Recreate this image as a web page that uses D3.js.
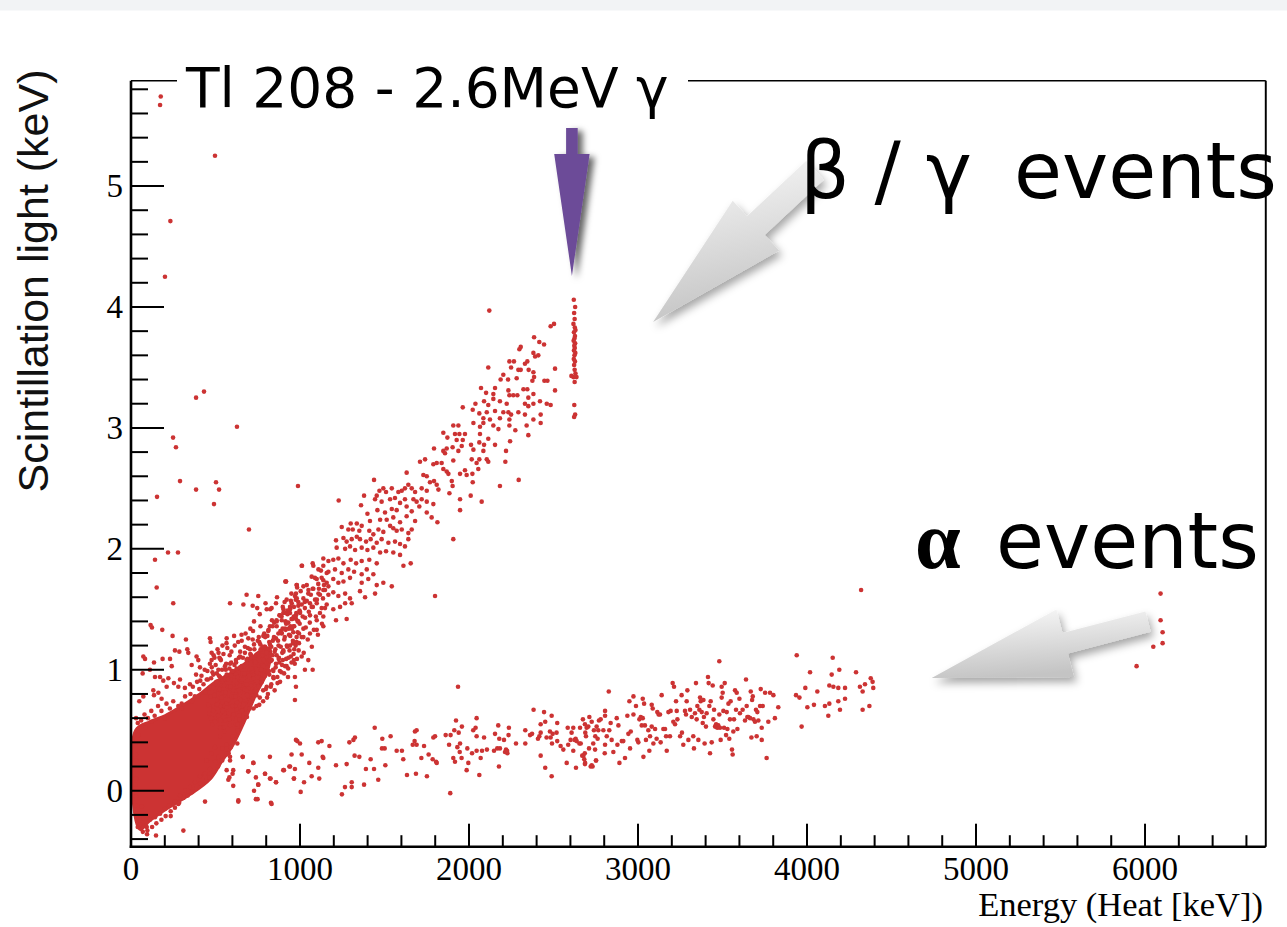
<!DOCTYPE html>
<html>
<head>
<meta charset="utf-8">
<script src="https://cdn.jsdelivr.net/npm/d3@7"></script>
<style>
  html, body { margin: 0; padding: 0; background: #ffffff; }
  svg { display: block; }
</style>
</head>
<body>
<svg id="chart" width="1287" height="927"></svg>
<script>
// ---- Axis ticks ----
const xMajorTicks = [0, 1000, 2000, 3000, 4000, 5000, 6000];
const yMajorTicks = [0, 1, 2, 3, 4, 5];

// ---- Events: [heat energy (keV), scintillation light (keV)] ----

// Saturated core of the beta/gamma population near threshold (outline)
const denseCore = [
  [28,0.50],[112,0.57],[200,0.62],[300,0.70],[408,0.80],[500,0.90],[600,0.98],
  [700,1.08],[780,1.17],[820,1.18],
  [810,1.00],[740,0.80],[660,0.54],[600,0.37],[540,0.25],[470,0.10],[350,-0.03],
  [200,-0.16],[110,-0.25],[55,-0.32],[30,-0.25]
];

// Events scattered around the edge of the saturated core
const coreEdge = [
  [93,-0.30],[112,-0.24],[142,-0.22],[172,-0.19],[201,-0.15],[227,-0.12],[260,-0.09],
  [290,-0.04],[319,0.00],[349,0.03],[379,0.07],[408,0.12],[438,0.14],[467,0.18],
  [497,0.24],[517,0.28],[542,0.35],[73,-0.23],[43,-0.19],[63,-0.13],[448,0.25],
  [477,0.31],[497,0.36],[527,0.45],[546,0.52],[566,0.59],[556,0.64],[28,0.30],
  [26,0.05],[27,-0.12],[45,0.46],[85,0.52],[120,0.57],[200,0.60],[300,0.68],
  [400,0.78],[480,0.86],[560,0.94],
  [70,-0.34],[95,-0.36],[125,-0.30],[150,-0.27],[180,-0.24],[205,-0.21],[235,-0.17],
  [260,-0.14],[285,-0.10],[310,-0.06],[335,-0.04],[360,-0.01],[385,0.02],[410,0.06],
  [440,0.08],[465,0.11],[490,0.16],[515,0.20],[540,0.25],[565,0.30],[590,0.36],
  [610,0.42],[630,0.50],[645,0.58],[660,0.66],[40,-0.30],[33,-0.20],[30,-0.05],
  [30,0.10],[30,0.25],[30,0.40],[600,0.45],[620,0.55],[640,0.62],[660,0.70],[680,0.74],
  [700,0.78],[720,0.82],[740,0.85],[760,0.90],[780,0.93],
  [352,0.80],[366,0.86],[378,0.78],[391,0.90],[404,0.84],[417,0.95],[429,0.88],[441,0.81],
  [452,0.99],[465,0.85],[474,0.93],[360,0.74],[385,0.96],[410,0.91],[436,1.00],[300,0.72],
  [320,0.78],[280,0.70],[250,0.74],[230,0.68],[210,0.72],[180,0.66],[160,0.70],[140,0.62],
  [120,0.66],[100,0.60],[80,0.63],[60,0.58],[40,0.56],[30,0.60]
];

// Beta/gamma band below ~1.2 MeV
const betaGammaLow = [
  [455,0.92],[462,0.64],[470,0.78],[478,1.02],[483,0.55],[490,0.70],[496,0.88],[503,0.61],
  [508,0.97],[515,0.74],[521,0.83],[527,0.52],[532,1.08],[538,0.67],[544,0.91],[549,0.79],
  [556,0.58],[561,1.00],[567,0.72],[572,0.86],[579,0.64],[584,1.12],[590,0.95],[596,0.77],
  [601,0.60],[607,0.88],[612,1.04],[618,0.70],[624,0.83],[630,0.55],[635,0.98],[641,0.76],
  [646,1.15],[652,0.90],[658,0.66],[663,0.81],[669,1.03],[675,0.72],[680,0.94],[686,0.61],
  [691,1.18],[697,0.85],[703,1.00],[708,0.74],[714,0.92],[720,1.25],[725,0.68],[731,1.07],
  [737,0.88],[742,0.79],[748,1.13],[754,0.97],[759,0.71],[765,1.21],[771,0.90],[776,1.04],
  [782,0.83],[788,1.30],[793,0.95],[799,1.10],[805,0.77],[810,1.17],[816,0.99],[822,1.36],
  [827,0.86],[833,1.08],[839,1.24],[844,0.93],[850,1.15],[856,1.02],[861,1.41],[867,0.89],
  [873,1.20],[878,1.06],[884,1.32],[890,0.98],[895,1.14],[901,1.47],[907,1.25],[912,1.03],
  [918,1.38],[924,1.19],[929,0.94],[935,1.29],[941,1.52],[946,1.11],[952,1.34],[958,1.22],
  [963,1.44],[969,1.05],[975,1.58],[980,1.27],[986,1.40],[992,1.16],[997,1.49],
  [458,0.71],[467,1.05],[474,0.60],[486,0.85],[494,1.10],[500,0.68],[511,0.80],[518,1.14],
  [525,0.63],[535,0.87],[541,1.20],[552,0.70],[559,0.92],[565,1.22],[575,0.80],[582,0.59],
  [593,1.06],[604,0.83],[610,1.28],[621,0.96],[627,0.73],[638,1.10],[644,0.87],[655,1.24],
  [661,0.97],[672,0.84],[678,1.30],[689,1.09],[695,0.78],[706,1.34],[711,1.12],[722,0.96],
  [728,1.40],[739,1.01],[745,0.88],[756,1.27],[762,1.46],[773,1.12],[779,0.96],[790,1.19],
  [796,1.55],[807,1.28],[813,1.07],[824,1.50],[830,1.19],[841,1.00],[847,1.39],[858,1.26],
  [864,1.60],[875,1.10],[881,1.45],[892,1.30],[898,1.08],[909,1.56],[915,1.33],[926,1.46],
  [932,1.10],[943,1.36],[949,1.63],[960,1.31],[966,1.17],[977,1.42],[983,1.68],[994,1.30],
  [448,0.92],[487,0.96],[517,1.00],[527,0.94],[556,1.03],[566,0.96],[586,1.05],[596,0.99],
  [621,1.08],[625,1.01],[645,1.11],[655,1.03],[674,1.14],[684,1.08],[704,1.17],[708,1.10],
  [728,1.21],[740,1.12],[759,1.23],[767,1.17],[783,1.28],[793,1.19],[812,1.32],[818,1.23],
  [838,1.36],[846,1.27],[862,1.40],[872,1.30],[891,1.44],[897,1.34],[917,1.47],[921,1.39],
  [941,1.50],[950,1.42],[964,1.52],[976,1.45],[990,1.56],[1000,1.47],[1020,1.59],[1029,1.51],
  [1049,1.63],[1059,1.55],[1075,1.67],[1089,1.58],[1108,1.71],[1118,1.62],[1138,1.74],
  [1148,1.66],[1158,1.80],[1168,1.69],
  [507,0.75],[546,0.81],[586,0.85],[625,0.89],[665,0.93],[704,0.96],[743,1.00],[783,1.03],
  [822,1.08],[862,1.12],[901,1.16],[941,1.20],[980,1.23],[1020,1.27],[1059,1.30],[1099,1.33],
  [1138,1.36],[527,0.70],[566,0.72],[605,0.78],[645,0.81],[684,0.83],[728,0.87],[773,0.92],
  [803,0.86],[842,0.94],[881,0.99],[921,1.03],[964,1.08],[1010,1.11],[970,0.75],[1049,1.08],
  [976,0.86],[1075,1.00],[970,0.94],
  [482,0.98],[486,0.66],[489,1.12],[493,0.79],[497,0.57],[501,1.04],[505,0.90],[509,0.71],
  [512,1.17],[516,0.62],[520,0.95],[524,0.84],[528,1.09],[531,0.58],[535,0.77],[539,1.00],
  [543,0.66],[547,1.13],[551,0.87],[555,0.49],[559,0.81],[563,1.05],[566,0.69],[570,1.18],
  [574,0.92],[578,0.75],[582,1.01],[586,0.54],[590,0.86],[594,1.15],[598,0.70],
  [602,0.99],[606,0.63],[610,0.91],[614,1.20],[618,0.78],[622,1.06],[626,0.67],[630,0.94],
  [634,1.23],[638,0.83],[642,0.59],[646,1.02],[650,0.75],[654,1.29],[658,0.92],[662,1.10],
  [666,0.71],[670,0.97],[674,1.19],[678,0.64],[682,0.88],[686,1.05],[690,0.79],[694,1.26],
  [698,0.95],[702,0.68],[706,1.13],[710,0.87],[714,1.01],[718,0.76],[722,1.32],[726,0.93],
  [730,1.17],[734,0.82],[738,1.06],[742,0.70],[746,0.98],[750,1.24],[754,0.86],[758,1.11],
  [762,0.77],[766,1.36],[770,1.00],[774,0.90],[778,1.19],[782,0.74],[786,1.08],[790,0.95],
  [794,1.27],[798,0.84],
  [802,1.14],[806,1.02],[810,0.80],[814,1.33],[818,0.96],[822,1.21],[826,1.07],[830,0.88],
  [834,1.41],[838,1.12],[842,0.99],[846,1.26],[850,0.83],[854,1.17],[858,1.05],[862,1.36],
  [866,0.94],[870,1.24],[874,1.09],[878,1.45],[882,0.90],[886,1.19],[890,1.31],[894,1.04],
  [898,1.52],[902,1.15],[906,0.97],[910,1.27],[914,1.40],[918,1.09],[922,1.20],[926,1.49],
  [930,1.01],[934,1.34],[938,1.16],[942,1.28],[946,1.57],[950,1.06],[954,1.42],[958,1.24],
  [962,1.13],[966,1.36],[970,1.61],[974,1.20],[978,1.47],[982,1.09],[986,1.31],[990,1.53],
  [994,1.22],[998,1.38],
  [1004,1.65],[1010,1.27],[1016,1.44],[1022,1.14],[1028,1.56],[1034,1.35],[1040,1.70],
  [1046,1.25],[1052,1.48],[1058,1.39],[1064,1.62],[1070,1.19],[1076,1.52],[1082,1.33],
  [1088,1.76],[1094,1.44],[1100,1.58],[1106,1.29],[1112,1.67],[1118,1.47],[1124,1.82],
  [1130,1.38],[1136,1.59],[1142,1.70],[1148,1.51],
  [1010,1.86],[1075,1.88],[917,1.73],[980,1.70],[976,1.63],[1029,1.00],
  [586,1.55],[684,1.62],[753,1.61],[665,1.54],[720,1.53],[747,1.51],[803,1.50],[858,1.55],
  [913,1.73],[832,1.51],[467,1.26],[471,1.23],[566,1.26],[477,1.14],[477,1.08],[523,1.10],
  [408,1.02],[398,1.08],[388,1.11],[359,1.04],[333,1.17],[339,1.14],[286,1.15],[260,1.16],
  [319,0.85],[349,0.88],[290,0.92],[280,0.86],[254,0.89],[211,0.86],[221,0.93],[191,0.91],
  [172,0.94],[142,0.94],[112,1.00],[69,0.97],[181,0.76],[162,0.81],[136,0.79],[132,0.83],
  [73,0.78],[49,0.74],[231,1.09],[241,1.03],[187,1.09],[136,1.06],[83,1.09],[73,1.11],
  [325,1.25],[246,1.28],[185,1.33],[116,1.37],[250,1.55],[152,1.68]
];

// Beta/gamma band above 1 MeV, up to the 2.6 MeV line
const betaGammaHigh = [
  [2120,3.97],[2483,3.84],[2503,3.86],[2385,3.75],[2416,3.71],[2444,3.69],[2306,3.67],
  [2298,3.65],[2381,3.62],[2410,3.60],[2391,3.59],[2239,3.55],[2266,3.55],[2345,3.55],
  [2331,3.53],[2114,3.50],[2249,3.50],[2292,3.48],[2306,3.48],[2353,3.48],[2509,3.49],
  [2381,3.46],[2385,3.42],[2375,3.39],[2446,3.39],[2464,3.39],[2203,3.44],[2231,3.40],
  [2282,3.41],[2187,3.40],[2154,3.33],[2071,3.33],[2101,3.29],[2144,3.28],[2233,3.31],
  [2239,3.27],[2262,3.27],[2286,3.27],[2322,3.32],[2345,3.32],[2351,3.25],[2381,3.28],
  [2509,3.31],[2420,3.22],[2144,3.24],
  [2038,3.20],[2089,3.22],[2114,3.19],[2183,3.22],[2223,3.20],[2331,3.20],[2351,3.18],
  [2381,3.20],[2460,3.20],[2483,3.19],[1963,3.17],[2022,3.15],[2061,3.12],[2105,3.13],
  [2154,3.14],[2203,3.13],[2233,3.13],[2249,3.11],[2292,3.13],[2331,3.11],[2424,3.11],
  [2085,3.08],[2124,3.07],[2183,3.08],[2239,3.07],[2239,3.02],[2381,3.07],[2424,3.04],
  [2341,3.02],[2274,2.98],[1907,3.02],[1937,3.02],[2026,3.04],[2065,3.01],[2085,3.04],
  [2144,3.02],[2174,2.99],
  [1848,2.96],[1917,2.95],[1943,2.95],[1976,2.95],[2065,2.95],[2351,2.94],[1872,2.92],
  [1927,2.90],[1963,2.90],[2012,2.86],[2061,2.88],[2089,2.86],[2114,2.91],[2154,2.86],
  [2243,2.89],[1793,2.83],[1848,2.81],[1868,2.83],[1858,2.79],[1903,2.84],[1937,2.81],
  [1957,2.85],[2026,2.82],[2085,2.81],[2219,2.81],[1907,2.73],[2016,2.74],[2045,2.71],
  [2061,2.74],[2105,2.74],[2114,2.72],[2215,2.72],[1710,2.72],[1740,2.74],[1789,2.70],
  [1809,2.71],[1838,2.71],
  [1631,2.63],[1730,2.61],[1750,2.60],[1848,2.66],[1868,2.64],[1878,2.62],[1947,2.62],
  [1976,2.65],[1986,2.61],[2020,2.62],[2055,2.66],[1769,2.55],[1793,2.56],[1809,2.53],
  [1898,2.56],[1903,2.52],[2022,2.55],[1438,2.57],[1470,2.48],[1509,2.47],[1493,2.50],
  [1543,2.50],[1582,2.47],[1602,2.48],[1621,2.50],[1641,2.53],[1661,2.50],[1681,2.47],
  [1720,2.50],[1750,2.48],[1819,2.49],[1884,2.46],[2183,2.52],[2294,2.57],[2010,2.44],
  [988,2.52],[1229,2.40],
  [1947,2.41],[2075,2.39],[1947,2.32],[1361,2.36],[1379,2.44],[1454,2.44],[1444,2.41],
  [1483,2.39],[1533,2.41],[1562,2.42],[1592,2.38],[1621,2.41],[1671,2.41],[1690,2.39],
  [1720,2.41],[1750,2.39],[1789,2.37],[1543,2.33],[1572,2.32],[1631,2.35],[1661,2.31],
  [1706,2.35],[1750,2.30],[1779,2.26],[1813,2.22],[1399,2.29],[1458,2.32],[1503,2.30],
  [1474,2.24],[1513,2.24],[1552,2.26],[1592,2.22],[1631,2.27],[1681,2.23],[1414,2.23],
  [1365,2.19],[1336,2.21],[1300,2.21],[1907,2.08],
  [1247,2.18],[1286,2.16],[1312,2.16],[1351,2.15],[1410,2.15],[1434,2.12],[1464,2.16],
  [1493,2.14],[1533,2.19],[1552,2.17],[1572,2.15],[1602,2.16],[1641,2.13],[1661,2.16],
  [1213,2.07],[1257,2.09],[1276,2.06],[1306,2.08],[1336,2.10],[1355,2.08],[1391,2.06],
  [1418,2.08],[1454,2.05],[1483,2.08],[1523,2.05],[1562,2.06],[1592,2.04],[1641,2.08],
  [1621,2.02],[1217,2.01],[1267,2.00],[1296,2.02],[1326,1.99],[1365,2.01],[1399,1.99],
  [1434,2.01],[1474,1.97],[1509,1.98],[1552,1.97],[1592,1.95],[1138,1.92],[1168,1.90],
  [1197,1.91],[1227,1.92],[1257,1.88],[1300,1.91],[1332,1.88],[1365,1.90],[1410,1.91],
  [1454,1.88],[1612,1.86],[1655,1.88],[1012,1.86],
  [1079,1.86],[1109,1.83],[1138,1.86],[1168,1.81],[1207,1.83],[1247,1.80],[1286,1.83],
  [1320,1.81],[1365,1.79],[1395,1.83],[1434,1.79],[1069,1.77],[1099,1.75],[1128,1.76],
  [1158,1.72],[1197,1.75],[1227,1.72],[1257,1.73],[1296,1.76],[1365,1.72],[1404,1.75],
  [1454,1.70],[1493,1.72],[1543,1.69],[917,1.73],[981,1.70],[1020,1.69],[1050,1.66],
  [1079,1.67],[1109,1.63],[1138,1.66],[1168,1.62],[1197,1.64],[1227,1.61],[1267,1.63],
  [1296,1.59],[1355,1.65],[1385,1.60],[1444,1.63],[1799,1.61],[921,1.58],[951,1.55],
  [981,1.59],[1010,1.54],[1040,1.57],[1069,1.52],[1099,1.55],[1128,1.51],[1158,1.54],
  [1197,1.50],[1237,1.52],[1267,1.55],[1306,1.55],[902,1.50],[941,1.47],[971,1.44],
  [1000,1.48],[1030,1.43],[1059,1.45],[1099,1.41],[1138,1.44],[1213,1.41],[1276,1.42],
  [892,1.41],[931,1.39],[961,1.36],[990,1.40],[1020,1.34],[912,1.34]
];

// Events on the 2615 keV line of 208Tl
const thalliumPeak = [
  [2620,4.06],[2628,4.00],[2622,3.95],[2625,3.90],[2618,3.86],[2626,3.83],[2630,3.81],
  [2621,3.79],[2627,3.76],[2624,3.74],[2619,3.72],[2628,3.70],[2623,3.68],[2626,3.66],
  [2621,3.64],[2629,3.62],[2624,3.60],[2620,3.57],[2627,3.55],[2622,3.52],[2625,3.48],
  [2630,3.45],[2618,3.42],[2606,3.43],[2636,3.42],[2625,3.38],[2623,3.19],[2628,3.11],
  [2622,3.09]
];

// Alpha band
const alphaBand = [
  [566,0.31],[576,0.09],[605,0.17],[601,0.14],[635,-0.09],[661,0.28],[694,0.16],[724,0.23],
  [753,0.05],[728,0.00],[749,-0.07],[793,0.14],[822,0.28],[826,0.10],[858,0.07],[828,-0.10],
  [901,0.17],[937,0.20],[964,0.10],[950,0.30],[976,0.42],[984,0.41],
  [578,0.31],[586,0.28],[566,0.17],[582,0.11],[605,0.04],[629,0.39],[661,0.28],[694,0.16],
  [724,0.23],[739,0.11],[753,0.05],[739,-0.07],[635,-0.08],[793,0.14],[822,0.10],[858,0.07],
  [832,-0.11],[905,0.17],[941,0.20],[970,0.18],[964,0.10],[566,0.38],[586,0.25],
  [438,-0.09],[310,-0.33],[148,-0.37],[235,-0.21],[280,-0.11],[97,-0.33],[53,-0.28],
  [1000,0.39],[1010,0.30],[1004,-0.01],[1024,0.07],[1055,0.23],[1069,0.12],[1108,0.40],
  [1128,0.41],[1108,0.19],[1114,0.10],[1134,0.28],[1138,0.27],[1174,0.37],[1213,0.21],
  [1248,-0.03],[1266,0.03],[1276,0.22],[1292,0.40],[1306,0.07],[1306,0.03],[1316,0.42],
  [1325,0.44],[1323,0.29],[1351,0.28],[1379,0.05],[1390,0.18],[1418,0.26],[1438,0.18],
  [1442,0.52],[1463,0.09],[1487,0.43],[1485,0.35],[1501,0.35],[1505,0.21],[1536,0.45],
  [1572,0.33],[1603,0.33],[1611,0.26],[1633,0.13],[1667,0.38],[1678,0.41],[1690,0.38],
  [1680,0.49],[1690,0.50],[1686,0.14],[1718,0.27],[1734,0.37],[1751,0.12],[1761,0.30],
  [1785,0.26],[1789,0.44],[1799,0.45],[1805,0.24],[1809,0.23],[1862,0.46],[1891,0.46],
  [1882,0.38],[1889,-0.02],[1907,0.27],[1917,0.24],[1913,0.50],[1923,0.58],[1939,0.48],
  [1931,0.36],[1947,0.39],[1945,0.32],[1956,0.27],[1958,0.53],[1986,0.17],[1990,0.35],
  [1996,0.23],[2018,0.31],[2025,0.50],[2039,0.52],[2045,0.60],[2045,0.45],[2045,0.33],
  [2061,0.13],[2069,0.27],[2077,0.33],[2089,0.44],[2106,0.34],[2148,0.33],[2154,0.47],
  [2167,0.35],[2173,0.54],[2177,0.20],[2183,0.35],[2179,0.43],[2207,0.42],[2213,0.32],
  [2223,0.32],[2227,0.31],[2219,0.34],[2225,0.33],[2234,0.46],[2236,0.52],[2278,0.39],
  [2333,0.50],[2333,0.39],[2361,0.46],[2373,0.47],[2382,0.67],[2408,0.43],[2416,0.45],
  [2424,0.48],[2424,0.55],[2424,0.29],[2444,0.65],[2451,0.57],[2451,0.19],[2459,0.44],
  [2479,0.49],[2483,0.44],[2489,0.62],[2489,0.12],[2495,0.47],[2491,0.39],[2518,0.48],
  [2522,0.56],[2522,0.41],[2542,0.37],[2558,0.34],[2578,0.23],[2584,0.52],[2587,0.38],
  [2601,0.42],[2607,0.48],[2617,0.52],[2617,0.33],[2625,0.42],[2631,0.43],[2637,0.41],
  [2633,0.19],[2653,0.39],[2657,0.52],[2670,0.29],[2674,0.59],[2682,0.26],[2686,0.55],
  [2688,0.48],[2686,0.22],[2696,0.52],[2692,0.45],[2706,0.53],[2710,0.35],[2712,0.61],
  [2720,0.20],[2726,0.57],[2731,0.20],[2735,0.39],[2739,0.50],[2747,0.45],[2751,0.25],
  [2755,0.53],[2761,0.43],[2769,0.58],[2765,0.50],[2687,0.23],[2726,0.21],[2752,0.25],
  [2677,0.29],[2661,0.39],[2685,0.31],[2746,0.34],
  [2805,0.66],[2827,0.82],[2779,0.59],[2805,0.62],[2795,0.50],[2815,0.45],[2805,0.38],
  [2803,0.31],[2838,0.56],[2830,0.50],[2844,0.42],[2874,0.60],[2884,0.54],[2878,0.38],
  [2890,0.23],[2854,0.32],[2904,0.41],[2913,0.41],[2923,0.27],[2937,0.62],[2943,0.47],
  [2949,0.74],[2953,0.35],[2957,0.49],[2973,0.78],[2973,0.63],[2988,0.70],[2996,0.42],
  [3002,0.40],[3008,0.59],[3016,0.61],[3022,0.54],[3028,0.76],[3032,0.28],[3036,0.72],
  [3028,0.60],[3041,0.54],[3047,0.42],[3061,0.50],[3067,0.33],[3071,0.45],[3081,0.71],
  [3081,0.53],[3087,0.68],[3091,0.39],[3101,0.51],[3110,0.43],[3114,0.65],[3122,0.63],
  [3130,0.63],[3140,0.79],[3134,0.40],[3150,0.51],[3160,0.51],[3166,0.45],[3170,0.33],
  [3180,0.65],[3189,0.45],[3193,0.66],[3205,0.89],[3209,0.57],[3213,0.86],[3219,0.55],
  [3225,0.74],[3229,0.66],[3233,0.59],[3249,0.45],[3258,0.79],[3260,0.48],[3268,0.38],
  [3278,0.66],[3284,0.63],[3288,0.74],[3292,0.83],[3298,0.42],[3308,0.67],[3318,0.61],
  [3327,0.45],[3331,0.35],[3337,0.64],[3343,0.89],[3347,0.59],[3351,0.70],[3357,0.42],
  [3363,0.67],[3367,0.77],[3371,0.74],[3377,0.65],[3383,0.56],[3387,0.75],[3390,0.61],
  [3394,0.39],[3402,0.53],[3406,0.64],[3414,0.94],[3418,0.89],[3422,0.70],[3426,0.31],
  [3430,0.74],[3436,0.40],[3442,0.87],[3446,0.59],[3450,0.67],[3456,0.53],[3462,0.55],
  [3465,0.53],[3469,0.52],[3475,0.54],[3481,1.07],[3481,0.63],[3485,0.52],[3489,0.42],
  [3495,0.77],[3495,0.86],[3501,0.81],[3505,0.66],[3509,0.52],[3513,0.89],[3521,0.46],
  [3525,0.65],[3529,0.51],[3535,0.72],[3540,0.43],[3544,0.59],[3548,0.74],[3556,0.34],
  [3560,0.30],[3564,0.49],[3568,0.59],[3574,0.83],[3580,0.67],[3584,0.81],[3588,0.51],
  [3600,0.76],[3603,0.64],[3619,0.67],[3633,0.58],[3639,0.92],[3643,0.70],[3647,0.61],
  [3653,0.61],[3663,0.60],[3667,0.82],[3671,0.44],[3675,0.75],[3679,0.78],[3683,0.59],
  [3692,0.57],[3698,0.67],[3702,0.45],[3706,0.65],[3712,0.58],[3722,0.70],[3726,0.84],
  [3732,0.52],[3732,0.42],[3738,0.70],[3752,0.81],[3761,0.27],[3771,0.57],[3781,0.81],
  [3801,0.79],[3810,0.60],[3830,0.69]
];

// Alpha events above 3.9 MeV, including the 6 MeV group
const alphaHigh = [
  [3935,0.79],[3939,1.12],[3955,0.77],[3968,0.53],[3990,0.85],[4002,0.69],[4018,0.98],
  [4041,0.71],[4061,0.82],[4106,0.70],[4126,0.62],[4132,0.72],[4132,0.87],[4146,0.96],
  [4152,1.10],[4156,0.86],[4185,0.85],[4185,0.74],[4191,1.00],[4195,0.67],[4225,0.85],
  [4225,0.76],[4290,0.98],[4313,0.86],[4329,0.82],[4329,0.67],[4343,0.88],[4369,0.70],
  [4377,0.93],[4388,0.90],[4392,0.85],[4320,1.66],
  [6092,1.63],[6092,1.41],[6104,1.31],[6104,1.22],[6049,1.19],[5950,1.03]
];

// Isolated low-energy events with large light yield
const strayEvents = [
  [176,5.74],[172,5.67],[497,5.25],[233,4.71],[201,4.25],[385,3.25],[432,3.30],
  [627,3.01],[249,2.92],[266,2.84],[290,2.56],[503,2.55],[521,2.49],[491,2.37],
  [385,2.49],[154,2.43],[219,1.97],[278,1.97],[698,2.16],[142,1.91],[124,1.35],
  [1935,0.86]
];

// ---- Layout ----
const plot = { left: 131, right: 1265.7, top: 80.7, bottom: 846.7 };
const red = "#cc3333";

const x = d3.scaleLinear().domain([0, 6714]).range([plot.left, plot.right]);
const y = d3.scaleLinear().domain([-0.463, 5.871]).range([plot.bottom, plot.top]);

const svg = d3.select("#chart");
const defs = svg.append("defs");

defs.append("clipPath").attr("id", "plotClip")
  .append("rect")
  .attr("x", plot.left).attr("y", plot.top)
  .attr("width", plot.right - plot.left).attr("height", plot.bottom - plot.top);

const greyShadow = defs.append("filter").attr("id", "greyShadow")
  .attr("x", "-30%").attr("y", "-30%").attr("width", "160%").attr("height", "160%");
greyShadow.append("feDropShadow")
  .attr("dx", 3).attr("dy", 5).attr("stdDeviation", 4)
  .attr("flood-color", "#000").attr("flood-opacity", 0.35);

const purpleShadow = defs.append("filter").attr("id", "purpleShadow")
  .attr("x", "-60%").attr("y", "-20%").attr("width", "220%").attr("height", "140%");
purpleShadow.append("feDropShadow")
  .attr("dx", 5).attr("dy", 3).attr("stdDeviation", 3)
  .attr("flood-color", "#000").attr("flood-opacity", 0.6);

const greyFill = defs.append("linearGradient").attr("id", "greyFill")
  .attr("x1", 0).attr("y1", 0).attr("x2", 0.25).attr("y2", 1);
greyFill.append("stop").attr("offset", "0%").attr("stop-color", "#fbfbfb");
greyFill.append("stop").attr("offset", "100%").attr("stop-color", "#c4c4c4");

// thin grey strip along the top edge
svg.append("rect").attr("x", 0).attr("y", 0).attr("width", 1287).attr("height", 10.5)
  .attr("fill", "#f2f3f5");

// ---- Data layer ----
const dataLayer = svg.append("g").attr("clip-path", "url(#plotClip)");

dataLayer.append("path")
  .datum(denseCore)
  .attr("d", d3.line().x(d => x(d[0])).y(d => y(d[1])).curve(d3.curveCatmullRomClosed))
  .attr("fill", red).attr("stroke", red).attr("stroke-width", 3);

const allEvents = [].concat(coreEdge, betaGammaLow, betaGammaHigh, thalliumPeak,
  alphaBand, alphaHigh, strayEvents);

dataLayer.selectAll("circle.ev")
  .data(allEvents)
  .join("circle")
  .attr("class", "ev")
  .attr("cx", d => x(d[0]))
  .attr("cy", d => y(d[1]))
  .attr("r", 2.3)
  .attr("fill", red);

// ---- Axes (ROOT style: inward ticks on left and bottom) ----
const axisLayer = svg.append("g");
const xMinor = d3.range(0, 6714, 200).filter(v => v % 1000 !== 0);
const yMinor = d3.range(-2, 30).map(i => +(i * 0.2).toFixed(1)).filter(v => Math.abs(v - Math.round(v)) > 1e-6);

axisLayer.selectAll("line.xmaj").data(xMajorTicks).join("line")
  .attr("x1", d => x(d)).attr("x2", d => x(d))
  .attr("y1", plot.bottom).attr("y2", plot.bottom - 23)
  .attr("stroke", "#000").attr("stroke-width", 2);
axisLayer.selectAll("line.xmin").data(xMinor).join("line")
  .attr("x1", d => x(d)).attr("x2", d => x(d))
  .attr("y1", plot.bottom).attr("y2", plot.bottom - 11.5)
  .attr("stroke", "#000").attr("stroke-width", 2);
axisLayer.selectAll("line.ymaj").data(yMajorTicks).join("line")
  .attr("x1", plot.left).attr("x2", plot.left + 33)
  .attr("y1", d => y(d)).attr("y2", d => y(d))
  .attr("stroke", "#000").attr("stroke-width", 2);
axisLayer.selectAll("line.ymin").data(yMinor).join("line")
  .attr("x1", plot.left).attr("x2", plot.left + 17)
  .attr("y1", d => y(d)).attr("y2", d => y(d))
  .attr("stroke", "#000").attr("stroke-width", 2);

// frame
axisLayer.append("line").attr("x1", plot.left).attr("x2", plot.right)
  .attr("y1", plot.top).attr("y2", plot.top).attr("stroke", "#000").attr("stroke-width", 1.6);
axisLayer.append("line").attr("x1", plot.right).attr("x2", plot.right)
  .attr("y1", plot.top).attr("y2", plot.bottom).attr("stroke", "#000").attr("stroke-width", 1.6);
axisLayer.append("line").attr("x1", plot.left).attr("x2", plot.left)
  .attr("y1", plot.top).attr("y2", plot.bottom + 1.3).attr("stroke", "#000").attr("stroke-width", 2.6);
axisLayer.append("line").attr("x1", plot.left - 1.3).attr("x2", plot.right)
  .attr("y1", plot.bottom).attr("y2", plot.bottom).attr("stroke", "#000").attr("stroke-width", 2.6);

// tick labels
const tickFont = "'Liberation Serif', 'Times New Roman', serif";
axisLayer.selectAll("text.xl").data(xMajorTicks).join("text")
  .attr("x", d => x(d)).attr("y", 880)
  .attr("text-anchor", "middle")
  .attr("font-family", tickFont).attr("font-size", 33)
  .text(d => d);
axisLayer.selectAll("text.yl").data(yMajorTicks).join("text")
  .attr("x", 123).attr("y", d => y(d)).attr("dy", "0.34em")
  .attr("text-anchor", "end")
  .attr("font-family", tickFont).attr("font-size", 33)
  .text(d => d);

// axis titles
svg.append("text")
  .attr("x", 1263).attr("y", 916)
  .attr("text-anchor", "end")
  .attr("font-family", tickFont).attr("font-size", 34.5)
  .text("Energy (Heat [keV])");

svg.append("text")
  .attr("transform", "translate(48,281) rotate(-90)")
  .attr("text-anchor", "middle")
  .attr("font-family", "'Liberation Sans', Arial, sans-serif").attr("font-size", 43)
  .attr("fill", "#111")
  .text("Scintillation light (keV)");

// ---- Annotations ----
function arrowPath(tail, tip, headLen, headHalf, shaftHalf) {
  const dx = tail[0] - tip[0], dy = tail[1] - tip[1];
  const len = Math.hypot(dx, dy);
  const ux = dx / len, uy = dy / len, nx = -uy, ny = ux;
  const bx = tip[0] + ux * headLen, by = tip[1] + uy * headLen;
  const pts = [
    tip,
    [bx + nx * headHalf, by + ny * headHalf],
    [bx + nx * shaftHalf, by + ny * shaftHalf],
    [tail[0] + nx * shaftHalf, tail[1] + ny * shaftHalf],
    [tail[0] - nx * shaftHalf, tail[1] - ny * shaftHalf],
    [bx - nx * shaftHalf, by - ny * shaftHalf],
    [bx - nx * headHalf, by - ny * headHalf]
  ];
  return "M" + pts.map(p => p[0].toFixed(1) + "," + p[1].toFixed(1)).join("L") + "Z";
}
const px = d => [x(d[0]), y(d[1])];

// label box for the 208Tl line, interrupting the top of the frame
const annot = svg.append("g");
annot.append("rect").attr("x", 177).attr("y", 56).attr("width", 511).attr("height", 66)
  .attr("fill", "#fff");
annot.append("text")
  .attr("x", 186).attr("y", 107)
  .attr("font-family", "'DejaVu Sans', Verdana, sans-serif").attr("font-size", 55)
  .text("Tl 208 - 2.6MeV γ");

// arrow pointing at the 2615 keV line
annot.append("path")
  .attr("d", arrowPath(px([2609, 5.48]), px([2609, 4.256]), 122, 17.7, 5.8))
  .attr("fill", "#6c4b98")
  .attr("filter", "url(#purpleShadow)");

// arrows towards the two populations
annot.append("path")
  .attr("d", arrowPath(px([4047, 5.13]), px([3089, 3.875]), 141, 34, 12.9))
  .attr("fill", "url(#greyFill)")
  .attr("filter", "url(#greyShadow)");
annot.append("path")
  .attr("d", arrowPath(px([6018, 1.398]), px([4738, 0.931]), 138, 35, 10.5))
  .attr("fill", "url(#greyFill)")
  .attr("filter", "url(#greyShadow)");

const labelFont = "'DejaVu Sans', Verdana, sans-serif";
const bg = annot.append("text").attr("y", 198)
  .attr("font-family", labelFont).attr("font-size", 78);
bg.append("tspan").attr("x", 800).text("β / γ");
bg.append("tspan").attr("x", 1014).text("events");

const al = annot.append("text").attr("y", 568).attr("font-size", 78);
al.append("tspan").attr("x", 915)
  .attr("font-family", "'Liberation Serif', 'Times New Roman', serif")
  .attr("font-weight", "bold").attr("font-size", 82).text("α");
al.append("tspan").attr("x", 996).attr("font-family", labelFont).text("events");

// right edge of the frame drawn over the labels
svg.append("line").attr("x1", plot.right).attr("x2", plot.right)
  .attr("y1", plot.top).attr("y2", plot.bottom).attr("stroke", "#000").attr("stroke-width", 1.6);
</script>
</body>
</html>
